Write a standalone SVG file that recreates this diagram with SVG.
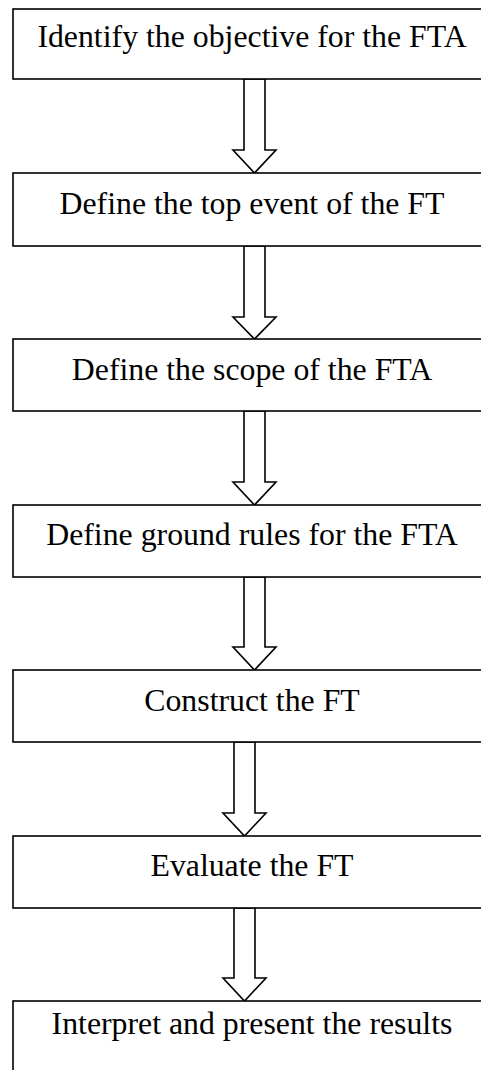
<svg xmlns="http://www.w3.org/2000/svg" width="481" height="1070" viewBox="0 0 481 1070">
  <style>
    .box { fill: #ffffff; stroke: #000000; stroke-width: 1.6; }
    .label { font-family: "Liberation Serif", "Times New Roman", serif; font-size: 31.8px; fill: #000000; text-anchor: middle; }
    .arrow { fill: #ffffff; stroke: #000000; stroke-width: 1.6; stroke-linejoin: miter; }
  </style>
  <rect width="481" height="1070" fill="#ffffff"/>

  <!-- block arrows between the steps -->
  <g id="connectors">
    <polygon class="arrow" points="244,79 265,79 265,150 276,150 254.5,173 233,150 244,150"/>
    <polygon class="arrow" points="244,246 265,246 265,317 276,317 254.5,339 233,317 244,317"/>
    <polygon class="arrow" points="244,411 265,411 265,482 276,482 254.5,505 233,482 244,482"/>
    <polygon class="arrow" points="244,577 265,577 265,647 276,647 254.5,670 233,647 244,647"/>
    <polygon class="arrow" points="234,742 255,742 255,813 266,813 244.5,836 223,813 234,813"/>
    <polygon class="arrow" points="234,908 255,908 255,978 266,978 244.5,1001 223,978 234,978"/>
  </g>

  <g id="step1">
    <rect class="box" x="13" y="9" width="480" height="70"/>
    <text class="label" x="252" y="47">Identify the objective for the FTA</text>
  </g>
  <g id="step2">
    <rect class="box" x="13" y="173" width="480" height="73"/>
    <text class="label" x="252" y="214">Define the top event of the FT</text>
  </g>
  <g id="step3">
    <rect class="box" x="13" y="339" width="480" height="72"/>
    <text class="label" x="252" y="380">Define the scope of the FTA</text>
  </g>
  <g id="step4">
    <rect class="box" x="13" y="505" width="480" height="72"/>
    <text class="label" x="252" y="545">Define ground rules for the FTA</text>
  </g>
  <g id="step5">
    <rect class="box" x="13" y="670" width="480" height="72"/>
    <text class="label" x="252" y="711">Construct the FT</text>
  </g>
  <g id="step6">
    <rect class="box" x="13" y="836" width="480" height="72"/>
    <text class="label" x="252" y="876">Evaluate the FT</text>
  </g>
  <g id="step7">
    <rect class="box" x="13" y="1001" width="480" height="90"/>
    <text class="label" x="252" y="1034">Interpret and present the results</text>
  </g>
</svg>
